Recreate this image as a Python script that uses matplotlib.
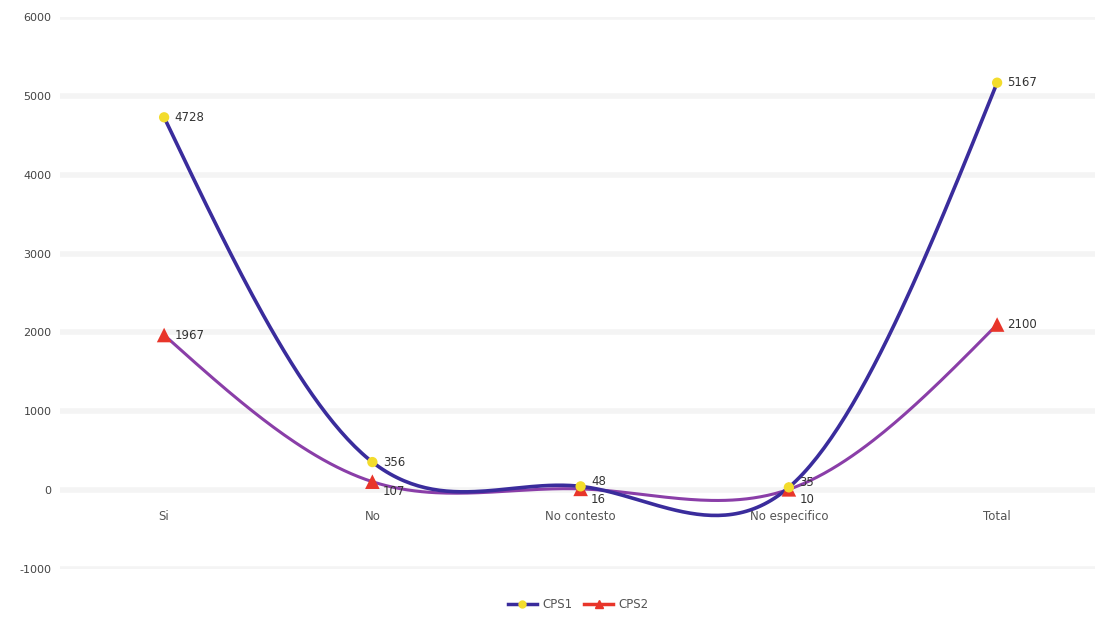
import numpy as np
import matplotlib
matplotlib.use("Agg")
import matplotlib.pyplot as plt
from matplotlib.lines import Line2D

categories = ["Si", "No", "No contesto", "No especifico", "Total"]
cps1 = [4728, 356, 48, 35, 5167]
cps2 = [1967, 107, 16, 10, 2100]
yticks = [-1000, 0, 1000, 2000, 3000, 4000, 5000, 6000]

c1_line = "#3a2c9c"
c1_mark = "#f3dc2c"
c2_line = "#8a3ea8"
c2_mark = "#e8352a"


def natural_spline(y, n=60):
    y = np.asarray(y, float)
    k = len(y)
    A = np.zeros((k, k))
    b = np.zeros(k)
    A[0, 0] = 1
    A[-1, -1] = 1
    for i in range(1, k - 1):
        A[i, i - 1] = 1
        A[i, i] = 4
        A[i, i + 1] = 1
        b[i] = 6 * (y[i + 1] - 2 * y[i] + y[i - 1])
    M = np.linalg.solve(A, b)
    xs, ys = [], []
    for i in range(k - 1):
        t = np.linspace(0, 1, n)
        s = (1 - t) * y[i] + t * y[i + 1] + ((1 - t) ** 3 - (1 - t)) * M[i] / 6 + (t ** 3 - t) * M[i + 1] / 6
        xs.append(i + t)
        ys.append(s)
    return np.concatenate(xs), np.concatenate(ys)


fig = plt.figure(figsize=(11.03, 6.22), dpi=100)
ax = fig.add_axes([60 / 1103, 1 - 569 / 622, 1 - 60 / 1103 - 8 / 1103, (569 - 17) / 622])
ax.set_xlim(-0.5, 4.47)
ax.set_ylim(-1000, 6000)

for yv in yticks:
    ax.axhline(yv, color="#f4f4f4", lw=4, zorder=0)

x = np.arange(len(categories))
sx, sy = natural_spline(cps1)
ax.plot(sx, sy, color=c1_line, lw=2.6, zorder=3, solid_capstyle="round")
sx2, sy2 = natural_spline(cps2)
ax.plot(sx2, sy2, color=c2_line, lw=2.2, zorder=2, solid_capstyle="round")

ax.scatter(x, cps2, marker="^", s=110, color=c2_mark, zorder=4, edgecolors="none")
ax.scatter(x, cps1, marker="o", s=55, color=c1_mark, zorder=5, edgecolors="none")

for xi, v in zip(x, cps1):
    dy = 60 if v < 200 else 0
    ax.text(xi + 0.05, v + dy, str(v), fontsize=8.5, color="#333333", va="center", ha="left", zorder=6)
for xi, v in zip(x, cps2):
    dy = -130 if v < 200 else 0
    ax.text(xi + 0.05, v + dy, str(v), fontsize=8.5, color="#333333", va="center", ha="left", zorder=6)

for xi, c in zip(x, categories):
    ax.text(xi, -330, c, fontsize=8.5, color="#555555", ha="center", va="center")

ax.set_xticks([])
ax.set_yticks(yticks)
ax.set_yticklabels([str(t) for t in yticks], fontsize=8, color="#444444")
ax.tick_params(axis="y", length=0, pad=6)
for s in ax.spines.values():
    s.set_visible(False)

handles = [
    Line2D([0], [0], color=c1_line, lw=2.5, marker="o", markerfacecolor=c1_mark, markeredgecolor=c1_mark, markersize=5),
    Line2D([0], [0], color=c2_mark, lw=2.5, marker="^", markerfacecolor=c2_mark, markeredgecolor=c2_mark, markersize=6),
]
fig.legend(handles, ["CPS1", "CPS2"], loc="center", bbox_to_anchor=(578 / 1103, 1 - 605 / 622),
           ncol=2, frameon=False, fontsize=8.5, handlelength=2.5, columnspacing=1.0, handletextpad=0.4,
           labelcolor="#555555")

fig.savefig("out.png", dpi=100)
